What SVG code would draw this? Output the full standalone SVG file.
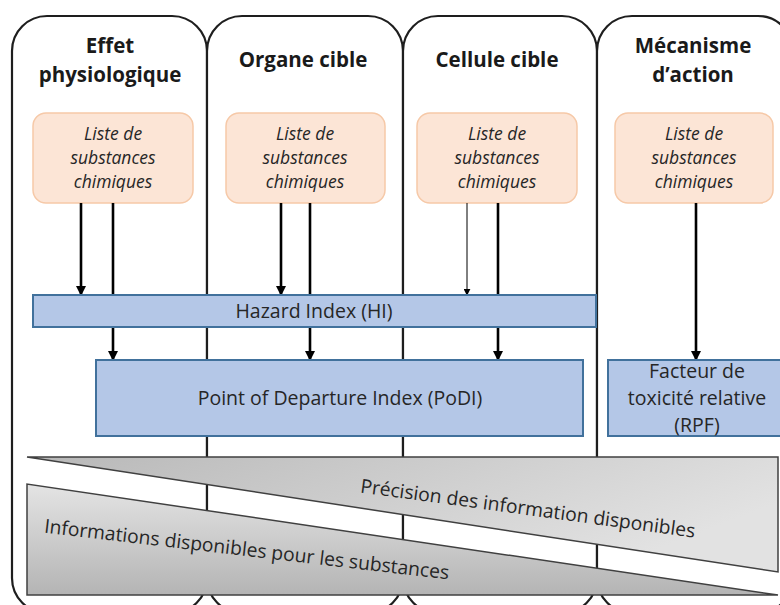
<svg xmlns="http://www.w3.org/2000/svg" width="780" height="605" viewBox="0 0 780 605">
<style>
.col{fill:#fff;stroke:#1e1e1e;stroke-width:2.2}
.hdr{font-family:"Open Sans","Liberation Sans",sans-serif;font-weight:bold;font-size:20.5px;fill:#1a1a1a;text-anchor:middle}
.lst{fill:#fce5d6;stroke:#f6c9a8;stroke-width:1.5}
.lt{font-family:"Open Sans","Liberation Sans",sans-serif;font-style:italic;font-size:17.5px;fill:#262626;text-anchor:middle}
.bx{fill:#b4c7e7;stroke:#41719c;stroke-width:2}
.bt{font-family:"Open Sans","Liberation Sans",sans-serif;font-size:19.5px;fill:#262626;text-anchor:middle}
.wt{font-family:"Open Sans","Liberation Sans",sans-serif;font-size:19.3px;fill:#262626;text-anchor:middle}
.ar{stroke:#000;stroke-width:2.6;fill:none;marker-end:url(#ah)}
.art{stroke:#000;stroke-width:1;fill:none;marker-end:url(#ahs)}
.wg{stroke:#404040;stroke-width:1.5}
</style>
<defs>
<marker id="ah" viewBox="0 0 10 10" refX="9" refY="5" markerWidth="4" markerHeight="4" orient="auto" markerUnits="strokeWidth">
<path d="M0,0 L10,5 L0,10 z" fill="#000"/>
</marker>
<marker id="ahs" viewBox="0 0 10 10" refX="9" refY="5" markerWidth="7" markerHeight="7" orient="auto" markerUnits="strokeWidth">
<path d="M0,0 L10,5 L0,10 z" fill="#000"/>
</marker>
<linearGradient id="g1" x1="0" y1="0" x2="1" y2="0.4">
<stop offset="0" stop-color="#b8b8b8"/>
<stop offset="1" stop-color="#e2e2e2"/>
</linearGradient>
<linearGradient id="g2" x1="0" y1="0" x2="0" y2="1">
<stop offset="0" stop-color="#e4e4e4"/>
<stop offset="1" stop-color="#b4b4b4"/>
</linearGradient>
</defs>

<g id="columns">
<g id="col-effet"><rect class="col" x="12" y="16" width="195" height="597" rx="35" ry="35"/></g>
<g id="col-organe"><rect class="col" x="207" y="16" width="196" height="597" rx="35" ry="35"/></g>
<g id="col-cellule"><rect class="col" x="403" y="16" width="194" height="597" rx="35" ry="35"/></g>
<g id="col-mecanisme"><rect class="col" x="597" y="16" width="196" height="597" rx="35" ry="35"/></g>
</g>

<g id="headers">
<text class="hdr" x="110" y="53">Effet</text>
<text class="hdr" x="110" y="82">physiologique</text>
<text class="hdr" x="303" y="67">Organe cible</text>
<text class="hdr" x="497" y="67">Cellule cible</text>
<text class="hdr" x="693" y="53">Mécanisme</text>
<text class="hdr" x="693" y="82">d’action</text>
</g>

<g id="list1"><rect class="lst" x="33" y="113" width="160" height="90" rx="13"/>
<text class="lt" x="113" y="140">Liste de</text><text class="lt" x="113" y="164">substances</text><text class="lt" x="113" y="188">chimiques</text></g>
<g id="list2"><rect class="lst" x="226" y="113" width="159" height="90" rx="13"/>
<text class="lt" x="305" y="140">Liste de</text><text class="lt" x="305" y="164">substances</text><text class="lt" x="305" y="188">chimiques</text></g>
<g id="list3"><rect class="lst" x="417" y="113" width="160" height="90" rx="13"/>
<text class="lt" x="497" y="140">Liste de</text><text class="lt" x="497" y="164">substances</text><text class="lt" x="497" y="188">chimiques</text></g>
<g id="list4"><rect class="lst" x="615" y="113" width="158" height="90" rx="13"/>
<text class="lt" x="694" y="140">Liste de</text><text class="lt" x="694" y="164">substances</text><text class="lt" x="694" y="188">chimiques</text></g>

<g id="connectors">
<line class="ar" x1="81" y1="203" x2="81" y2="295"/>
<line class="ar" x1="113" y1="203" x2="113" y2="360"/>
<line class="ar" x1="281" y1="203" x2="281" y2="295"/>
<line class="ar" x1="310" y1="203" x2="310" y2="360"/>
<line class="art" x1="467" y1="203" x2="467" y2="295"/>
<line class="ar" x1="498" y1="203" x2="498" y2="360"/>
<line class="ar" x1="696" y1="203" x2="696" y2="360"/>
</g>

<g id="hi"><rect class="bx" x="33" y="295" width="563" height="32"/>
<text class="bt" x="314" y="318">Hazard Index (HI)</text></g>
<g id="podi"><rect class="bx" x="96" y="360" width="487" height="76"/>
<text class="bt" x="340" y="405">Point of Departure Index (PoDI)</text></g>
<g id="rpf"><rect class="bx" x="608" y="360" width="190" height="76"/>
<text class="bt" x="697" y="378">Facteur de</text>
<text class="bt" x="697" y="405">toxicité relative</text>
<text class="bt" x="697" y="432">(RPF)</text></g>

<g id="wedge-precision">
<polygon class="wg" fill="url(#g1)" points="27,457 778,457 778,572"/>
<text class="wt" transform="translate(527,515) rotate(7.7)">Précision des information disponibles</text>
</g>
<g id="wedge-informations">
<polygon class="wg" fill="url(#g2)" points="27,484 27,595 778,595"/>
<text class="wt" transform="translate(246,556) rotate(6.6)">Informations disponibles pour les substances</text>
</g>
</svg>
